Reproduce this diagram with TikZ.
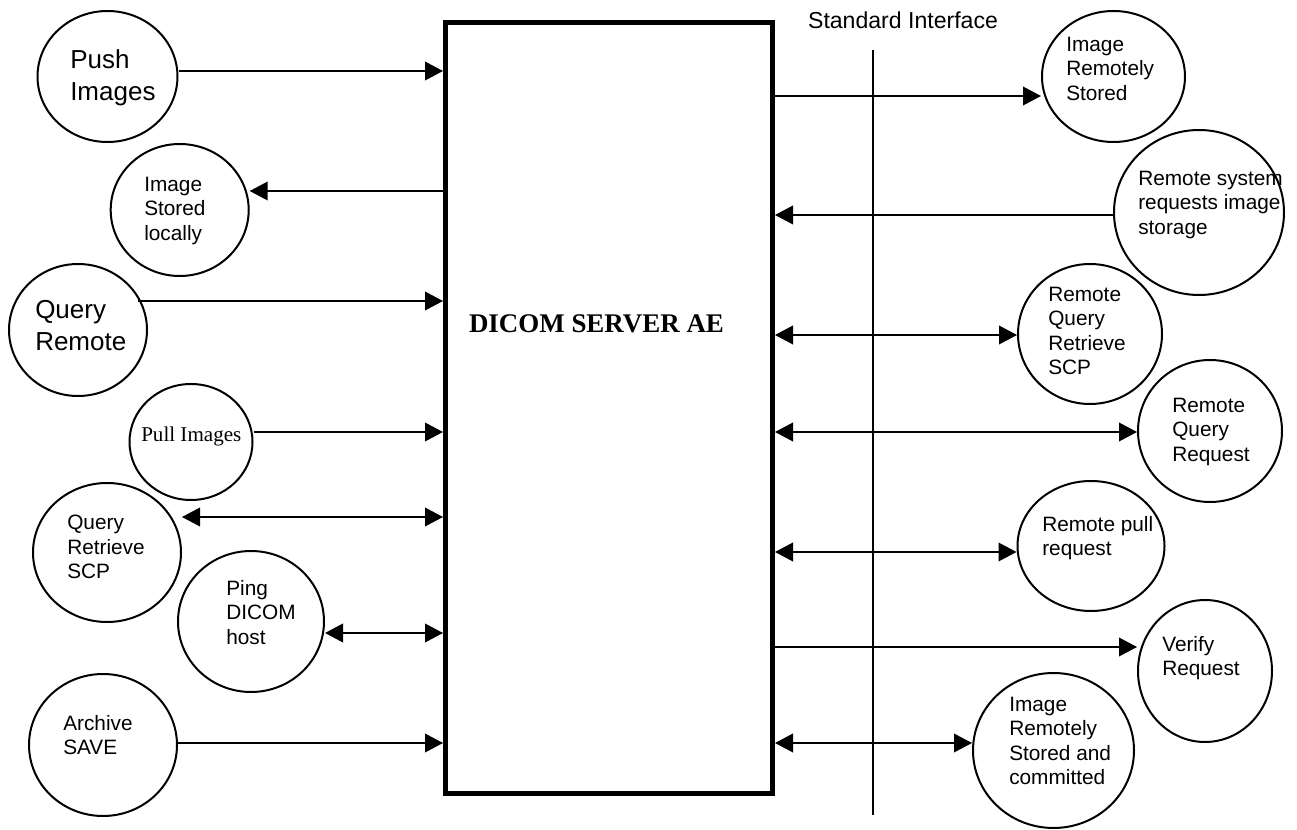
\documentclass[tikz,border=0pt]{standalone}
\usepackage{fontspec}
\setmainfont{Liberation Sans}
\newfontfamily\tnr{Liberation Serif}
\usetikzlibrary{shapes.geometric,arrows.meta,calc}
\tikzset{
  circ/.style 2 args={draw, ellipse, line width=1.5pt, inner sep=0pt,
    minimum width=#1*0.75pt, minimum height=#2*0.75pt},
  big/.style={font=\fontsize{19.5pt}{24pt}\selectfont, align=left, inner sep=0pt, anchor=north west},
  small/.style={font=\fontsize{15.6pt}{18.3pt}\selectfont, align=left, inner sep=0pt, anchor=north west},
  conn/.style={line width=1.1pt},
  tip/.style={-{Triangle[length=13.5pt,width=14pt]}},
  dtip/.style={{Triangle[length=13.5pt,width=14pt]}-{Triangle[length=13.5pt,width=14pt]}},
  serverbox/.style={draw, line width=3.75pt, inner sep=0pt,
    minimum width=327*0.75pt, minimum height=770*0.75pt}
}
\begin{document}
\begin{tikzpicture}[x=0.75pt,y=-0.75pt]
\useasboundingbox (0,0) rectangle (1297,830);
% server box
\node[serverbox] (srv) at (609,408) {};
\node[font=\tnr\bfseries\fontsize{20.2pt}{24pt}\selectfont, anchor=base, inner sep=0pt] (title) at (596.5,333) {DICOM SERVER AE};
% standard interface
\node[font=\fontsize{17.3pt}{20pt}\selectfont, anchor=base, inner sep=0pt] (stdif) at (903,29) {Standard Interface};
\coordinate (si1) at (873,50);
\coordinate (si2) at (873,815);
\draw[line width=0.8pt] (si1) -- (si2);
% left circles
\node[circ={140}{131}] (push) at (107.5,76.5) {};
\node[big] (tpush) at (70,49) {Push\\Images};
\node[circ={138}{132}] (stored) at (179.7,210) {};
\node[small] (tstored) at (144,177) {Image\\Stored\\locally};
\node[circ={138}{132}] (qremote) at (78,330) {};
\node[big] (tqremote) at (35,300) {Query\\Remote};
\node[circ={123}{116}] (pull) at (191,442) {};
\node[font=\tnr\fontsize{15.8pt}{18pt}\selectfont, anchor=base west, inner sep=0pt] (tpull) at (141,442) {Pull Images};
\node[circ={148}{139}] (qrscp) at (107,552.5) {};
\node[small] (tqrscp) at (67,515) {Query\\Retrieve\\SCP};
\node[circ={146}{141}] (ping) at (251,621.5) {};
\node[small] (tping) at (226,580) {Ping\\DICOM\\host};
\node[circ={148}{142}] (archive) at (103,745) {};
\node[small] (tarchive) at (63,715) {Archive\\SAVE};
% right circles
\node[circ={143}{131}] (irs) at (1113.5,76.5) {};
\node[small] (tirs) at (1066,37) {Image\\Remotely\\Stored};
\node[circ={170}{165}] (rsr) at (1199,212.5) {};
\node[small] (trsr) at (1138,171) {Remote system\\requests image\\storage};
\node[circ={144}{140}] (rqr) at (1090,334) {};
\node[small] (trqr) at (1048,287) {Remote\\Query\\Retrieve\\SCP};
\node[circ={144}{142}] (rq) at (1210,431) {};
\node[small] (trq) at (1172,398) {Remote\\Query\\Request};
\node[circ={147}{130}] (rp) at (1091,546) {};
\node[small] (trp) at (1042,516) {Remote pull\\request};
\node[circ={134}{142}] (vr) at (1205,671) {};
\node[small] (tvr) at (1162,636) {Verify\\Request};
\node[circ={161}{155}] (irsc) at (1053.5,750.5) {};
\node[small] (tirsc) at (1009,697) {Image\\Remotely\\Stored and\\committed};
% left connectors
\draw[conn,tip] (push.east |- 0,71) -- (srv.west |- 0,71);
\draw[conn,tip] (srv.west |- 0,191) -- (stored.east |- 0,191);
\draw[conn,tip] ($(qremote.east |- 0,301)+(-10,0)$) -- (srv.west |- 0,301);
\draw[conn,tip] (pull.east |- 0,432) -- (srv.west |- 0,432);
\draw[conn,dtip] (qrscp.east |- 0,517) -- (srv.west |- 0,517);
\draw[conn,dtip] (ping.east |- 0,633) -- (srv.west |- 0,633);
\draw[conn,tip] (archive.east |- 0,743) -- (srv.west |- 0,743);
% right connectors
\draw[conn,tip] (srv.east |- 0,96) -- (irs.west |- 0,96);
\draw[conn,tip] (rsr.west |- 0,215) -- (srv.east |- 0,215);
\draw[conn,dtip] (srv.east |- 0,335) -- (rqr.west |- 0,335);
\draw[conn,dtip] (srv.east |- 0,432) -- (rq.west |- 0,432);
\draw[conn,dtip] (srv.east |- 0,552) -- (rp.west |- 0,552);
\draw[conn,tip] (srv.east |- 0,647) -- (vr.west |- 0,647);
\draw[conn,dtip] (srv.east |- 0,743) -- (irsc.west |- 0,743);
\end{tikzpicture}
\end{document}
